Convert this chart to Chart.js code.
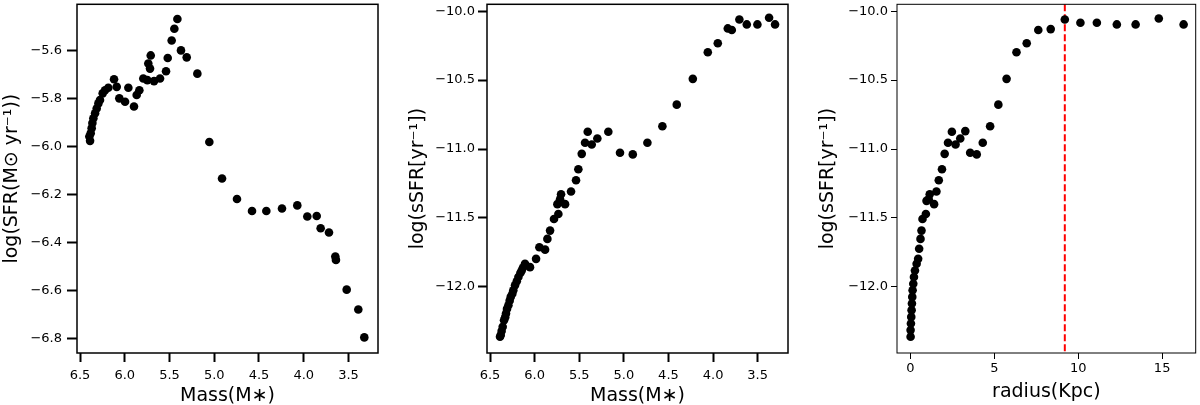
<!DOCTYPE html>
<html lang="en">
<head>
  <meta charset="UTF-8" />
  <title>SFR / sSFR profiles</title>
  <script src="https://cdn.jsdelivr.net/npm/chart.js"></script>
  <style>
    body {
      margin: 0;
      background: #fff;
      width: 1200px;
      height: 405px;
      position: relative;
      overflow: hidden;
    }
    canvas {
      position: absolute;
      top: 0;
    }
  </style>
</head>
<body>
  <canvas id="c1" width="390" height="405" style="left:0px"></canvas>
  <canvas id="c2" width="400" height="405" style="left:400px"></canvas>
  <canvas id="c3" width="390" height="405" style="left:810px"></canvas>

  <script>
    // Panel 1: log SFR vs mass
    const mass1 = [6.388,6.396,6.381,6.370,6.362,6.351,6.332,6.314,6.295,6.277,6.247,6.221,6.184,6.120,6.090,6.061,5.997,5.960,5.897,5.837,
                   5.867,5.793,5.748,5.673,5.718,5.737,5.710,5.606,5.539,5.520,5.476,5.446,5.412,5.372,5.308,5.189,5.055,4.913,4.746,4.578,
                   4.418,4.243,4.072,3.960,3.855,3.811,3.718,3.647,3.640,3.520,3.390,3.323];
    const sfr1 = [-5.977,-5.959,-5.945,-5.924,-5.903,-5.883,-5.862,-5.842,-5.821,-5.807,-5.779,-5.766,-5.756,-5.720,-5.752,-5.800,-5.814,-5.756,-5.834,-5.766,
                  -5.786,-5.717,-5.724,-5.728,-5.676,-5.655,-5.621,-5.717,-5.687,-5.632,-5.559,-5.510,-5.469,-5.600,-5.629,-5.697,-5.982,-6.134,-6.219,-6.269,
                  -6.269,-6.259,-6.246,-6.292,-6.290,-6.341,-6.359,-6.459,-6.473,-6.597,-6.680,-6.796];

    // Panel 2: log sSFR vs mass
    const mass2 = [6.388,6.380,6.370,6.358,6.343,6.330,6.321,6.310,6.294,6.280,6.268,6.250,6.239,6.220,6.200,6.182,6.160,6.145,6.130,6.108,
                   6.052,5.984,5.947,5.883,5.857,5.827,5.783,5.745,5.734,5.715,5.704,5.659,5.592,5.536,5.510,5.472,5.435,5.405,5.360,5.297,
                   5.174,5.043,4.900,4.736,4.568,4.407,4.227,4.059,3.947,3.835,3.790,3.705,3.622,3.503,3.372,3.305];
    const ssfr2 = [-12.362,-12.350,-12.320,-12.290,-12.242,-12.220,-12.193,-12.160,-12.133,-12.100,-12.073,-12.050,-12.025,-11.989,-11.960,-11.929,-11.900,-11.881,-11.860,-11.833,
                   -11.857,-11.797,-11.713,-11.730,-11.652,-11.592,-11.508,-11.400,-11.472,-11.364,-11.328,-11.400,-11.308,-11.227,-11.147,-11.035,-10.955,-10.875,-10.967,-10.924,
                   -10.875,-11.027,-11.039,-10.955,-10.835,-10.678,-10.491,-10.298,-10.233,-10.125,-10.137,-10.060,-10.096,-10.096,-10.048,-10.096];

    // Panel 3: log sSFR vs radius
    const radius3 = [16.28,14.80,13.42,12.30,11.11,10.13,9.20,8.36,7.62,6.93,
                     6.32,5.73,5.24,4.75,4.31,3.95,3.56,3.27,2.97,2.69,
                     2.47,2.24,2.04,1.88,1.69,1.55,1.15,1.09,1.41,0.96,
                     0.92,0.72,0.66,0.60,0.52,0.46,0.37,0.27,0.21,0.17,
                     0.13,0.11,0.09,0.07,0.05,0.03,0.01,0.01];
    const ssfr3 = [-10.096,-10.053,-10.096,-10.096,-10.084,-10.084,-10.060,-10.130,-10.137,-10.233,
                   -10.298,-10.491,-10.678,-10.835,-10.955,-11.039,-11.027,-10.870,-10.924,-10.967,
                   -10.875,-10.955,-11.035,-11.147,-11.227,-11.308,-11.328,-11.364,-11.400,-11.376,
                   -11.472,-11.508,-11.592,-11.652,-11.724,-11.797,-11.833,-11.881,-11.929,-11.977,
                   -12.025,-12.073,-12.121,-12.169,-12.218,-12.266,-12.314,-12.362];
    const cutRadius = 9.20;

    // tick labels
    const massTicks = [6.5, 6.0, 5.5, 5.0, 4.5, 4.0, 3.5];
    const sfrTicks = [-5.6, -5.8, -6.0, -6.2, -6.4, -6.6, -6.8];
    const ssfrTicks = [-10.0, -10.5, -11.0, -11.5, -12.0];
    const radiusTicks = [0, 5, 10, 15];

    const FONT = 'DejaVu Sans';
    const fmt1 = v => v.toFixed(1).replace('-', '\u2212');
    const fmt0 = v => v.toFixed(0).replace('-', '\u2212');

    const framePlugin = {
      id: 'frame',
      afterDatasetsDraw(chart, args, opts) {
        const { ctx, chartArea: a } = chart;
        ctx.save();
        ctx.strokeStyle = '#000';
        ctx.lineWidth = opts.width || 1;
        ctx.strokeRect(a.left, a.top, a.right - a.left, a.bottom - a.top);
        ctx.restore();
      }
    };

    function toPoints(xs, ys) {
      return xs.map((x, i) => ({ x: x, y: ys[i] }));
    }

    function axis(o) {
      const horizontal = o.pos === 'bottom';
      return {
        type: 'linear',
        position: o.pos,
        min: o.min,
        max: o.max,
        reverse: !!o.reverse,
        afterBuildTicks: s => { s.ticks = o.ticks.map(v => ({ value: v })); },
        afterFit: s => {
          if (horizontal) s.height = o.size; else s.width = o.size;
          // let the labels hang outside, like matplotlib does
          s.paddingTop = 0; s.paddingBottom = 0;
          s.paddingLeft = 0; s.paddingRight = 0;
        },
        border: { display: false },
        grid: {
          display: true,
          drawOnChartArea: false,
          drawTicks: true,
          tickLength: o.tickLen,
          tickWidth: o.tickW,
          tickColor: '#000'
        },
        ticks: {
          color: '#000',
          font: { family: FONT, size: 13 },
          padding: o.pad,
          maxRotation: 0,
          autoSkip: false,
          callback: o.fmt
        },
        title: {
          display: true,
          text: o.title,
          color: '#000',
          font: { family: FONT, size: 19, lineHeight: 1 },
          padding: o.titlePad
        }
      };
    }

    function makeChart(id, datasets, xOpt, yOpt, pad, frameW) {
      return new Chart(document.getElementById(id), {
        type: 'scatter',
        data: { datasets: datasets },
        options: {
          responsive: false,
          animation: false,
          devicePixelRatio: 1,
          layout: { padding: pad },
          plugins: {
            legend: { display: false },
            tooltip: { enabled: false },
            frame: { width: frameW }
          },
          scales: { x: axis(xOpt), y: axis(yOpt) }
        },
        plugins: [framePlugin]
      });
    }

    function dots(xs, ys) {
      return {
        data: toPoints(xs, ys),
        backgroundColor: '#000',
        borderColor: '#000',
        borderWidth: 0,
        pointRadius: 4.3
      };
    }

    // Panel 1
    makeChart('c1', [dots(mass1, sfr1)],
      { pos: 'bottom', min: 3.17, max: 6.534, reverse: true, ticks: massTicks, fmt: fmt1,
        title: 'Mass(M\u2217)', size: 52, tickLen: 9, tickW: 2, pad: 6, titlePad: { top: 0, bottom: -1 } },
      { pos: 'left', min: -6.861, max: -5.408, ticks: sfrTicks, fmt: fmt1,
        title: 'log(SFR(M\u2299 yr\u207B\u00B9))', size: 77, tickLen: 10, tickW: 2, pad: 5, titlePad: { top: 2.5, bottom: 0 } },
      { left: 0, right: 12, top: 2, bottom: 0 }, 1.5);

    // Panel 2
    makeChart('c2', [dots(mass2, ssfr2)],
      { pos: 'bottom', min: 3.16, max: 6.534, reverse: true, ticks: massTicks, fmt: fmt1,
        title: 'Mass(M\u2217)', size: 52, tickLen: 9, tickW: 2, pad: 6, titlePad: { top: 0, bottom: -1 } },
      { pos: 'left', min: -12.48, max: -9.95, ticks: ssfrTicks, fmt: fmt1,
        title: 'log(sSFR[yr\u207B\u00B9])', size: 87, tickLen: 9, tickW: 2, pad: 3, titlePad: { top: 8.5, bottom: 0 } },
      { left: 0, right: 12, top: 2, bottom: 0 }, 1.5);

    // Panel 3 with the dashed cut line
    makeChart('c3', [
        dots(radius3, ssfr3),
        {
          type: 'line',
          data: [{ x: cutRadius, y: -9.95 }, { x: cutRadius, y: -12.48 }],
          borderColor: '#ff0000',
          borderWidth: 2,
          borderDash: [7, 3],
          pointRadius: 0,
          showLine: true
        }
      ],
      { pos: 'bottom', min: -0.8, max: 17.0, ticks: radiusTicks, fmt: fmt0,
        title: 'radius(Kpc)', size: 52, tickLen: 6, tickW: 1, pad: 2, titlePad: { top: 0, bottom: 3 } },
      { pos: 'left', min: -12.48, max: -9.95, ticks: ssfrTicks, fmt: fmt1,
        title: 'log(sSFR[yr\u207B\u00B9])', size: 87, tickLen: 6, tickW: 1, pad: 3, titlePad: { top: 8.5, bottom: 0 } },
      { left: 0, right: 3, top: 2, bottom: 0 }, 1);
  </script>
</body>
</html>
